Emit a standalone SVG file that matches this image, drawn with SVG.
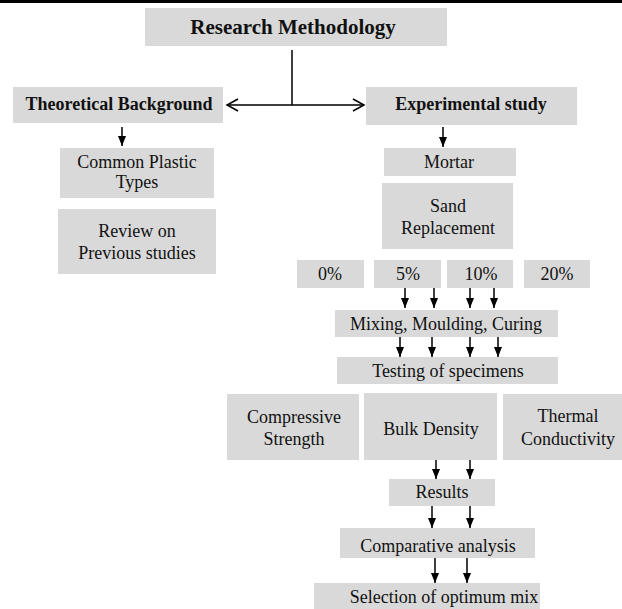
<svg xmlns="http://www.w3.org/2000/svg" width="622" height="609" viewBox="0 0 622 609">
<style>
.box{fill:#d9d9d9}
text{font-family:"Liberation Serif","Times New Roman",serif;font-size:18px;fill:#111;text-anchor:middle}
.b{font-weight:bold}
.ln{stroke:#000;stroke-width:1.5;fill:none}
.ah{fill:#000}
</style>
<defs>
<marker id="fa" markerWidth="10" markerHeight="8" refX="10" refY="4" orient="auto" markerUnits="userSpaceOnUse">
<path d="M0,0 L10,4 L0,8 Z" fill="#000"/>
</marker>
</defs>
<rect x="0" y="0" width="622" height="3" fill="#000"/>
<g id="research-methodology"><rect class="box" x="145" y="8" width="302" height="38"/><text class="b" x="293" y="34" style="font-size:21px">Research Methodology</text></g>
<g id="theoretical-background"><rect class="box" x="13" y="87" width="210" height="36"/><text class="b" x="119" y="110">Theoretical Background</text></g>
<g id="experimental-study"><rect class="box" x="366" y="87" width="211" height="38"/><text class="b" x="471" y="110">Experimental study</text></g>
<g id="common-plastic"><rect class="box" x="60" y="148" width="154" height="50"/><text x="137" y="168">Common Plastic</text><text x="137" y="188">Types</text></g>
<g id="review"><rect class="box" x="58" y="209" width="158" height="65"/><text x="137" y="237">Review on</text><text x="137" y="259">Previous studies</text></g>
<g id="mortar"><rect class="box" x="384" y="148" width="132" height="28"/><text x="449" y="168">Mortar</text></g>
<g id="sand-replacement"><rect class="box" x="382" y="183" width="131" height="66"/><text x="448" y="212">Sand</text><text x="448" y="234">Replacement</text></g>
<g id="p0"><rect class="box" x="297" y="260" width="67" height="28"/><text x="330" y="280">0%</text></g>
<g id="p5"><rect class="box" x="374" y="260" width="67" height="28"/><text x="408" y="280">5%</text></g>
<g id="p10"><rect class="box" x="447" y="260" width="66" height="28"/><text x="481" y="280">10%</text></g>
<g id="p20"><rect class="box" x="524" y="260" width="66" height="28"/><text x="557" y="280">20%</text></g>
<g id="mixing"><rect class="box" x="335" y="310" width="223" height="27"/><text x="446" y="330">Mixing, Moulding, Curing</text></g>
<g id="testing"><rect class="box" x="337" y="357" width="221" height="27"/><text x="448" y="377">Testing of specimens</text></g>
<g id="compressive"><rect class="box" x="227" y="394" width="132" height="66"/><text x="294" y="423">Compressive</text><text x="294" y="445">Strength</text></g>
<g id="bulk-density"><rect class="box" x="364" y="393" width="133" height="67"/><text x="431" y="435">Bulk Density</text></g>
<g id="thermal"><rect class="box" x="503" y="394" width="131" height="66"/><text x="568" y="422">Thermal</text><text x="568" y="445">Conductivity</text></g>
<g id="results"><rect class="box" x="389" y="479" width="106" height="27"/><text x="442" y="498">Results</text></g>
<g id="comparative"><rect class="box" x="340" y="528" width="195" height="30"/><text x="438" y="552">Comparative analysis</text></g>
<g id="selection"><rect class="box" x="314" y="583" width="226" height="26"/><text x="444" y="603">Selection of optimum mix</text></g>
<g id="connectors">
<path class="ln" d="M292,50 V105 M227,105 H364"/>
<path class="ln" d="M238,99 L227,105 L238,111 M353,99 L364,105 L353,111" stroke-width="1.8"/>
<g class="ln" marker-end="url(#fa)">
<path d="M122,127 V146"/>
<path d="M443,127 V147"/>
<path d="M405,288 V308"/>
<path d="M434,288 V308"/>
<path d="M470,288 V308"/>
<path d="M494,288 V308"/>
<path d="M400,337 V357"/>
<path d="M432,337 V357"/>
<path d="M470,337 V357"/>
<path d="M498,337 V357"/>
<path d="M436,460 V479"/>
<path d="M470,460 V479"/>
<path d="M432,506 V528"/>
<path d="M470,506 V528"/>
<path d="M435,558 V583"/>
<path d="M467,558 V583"/>
</g>
</g>
</svg>
